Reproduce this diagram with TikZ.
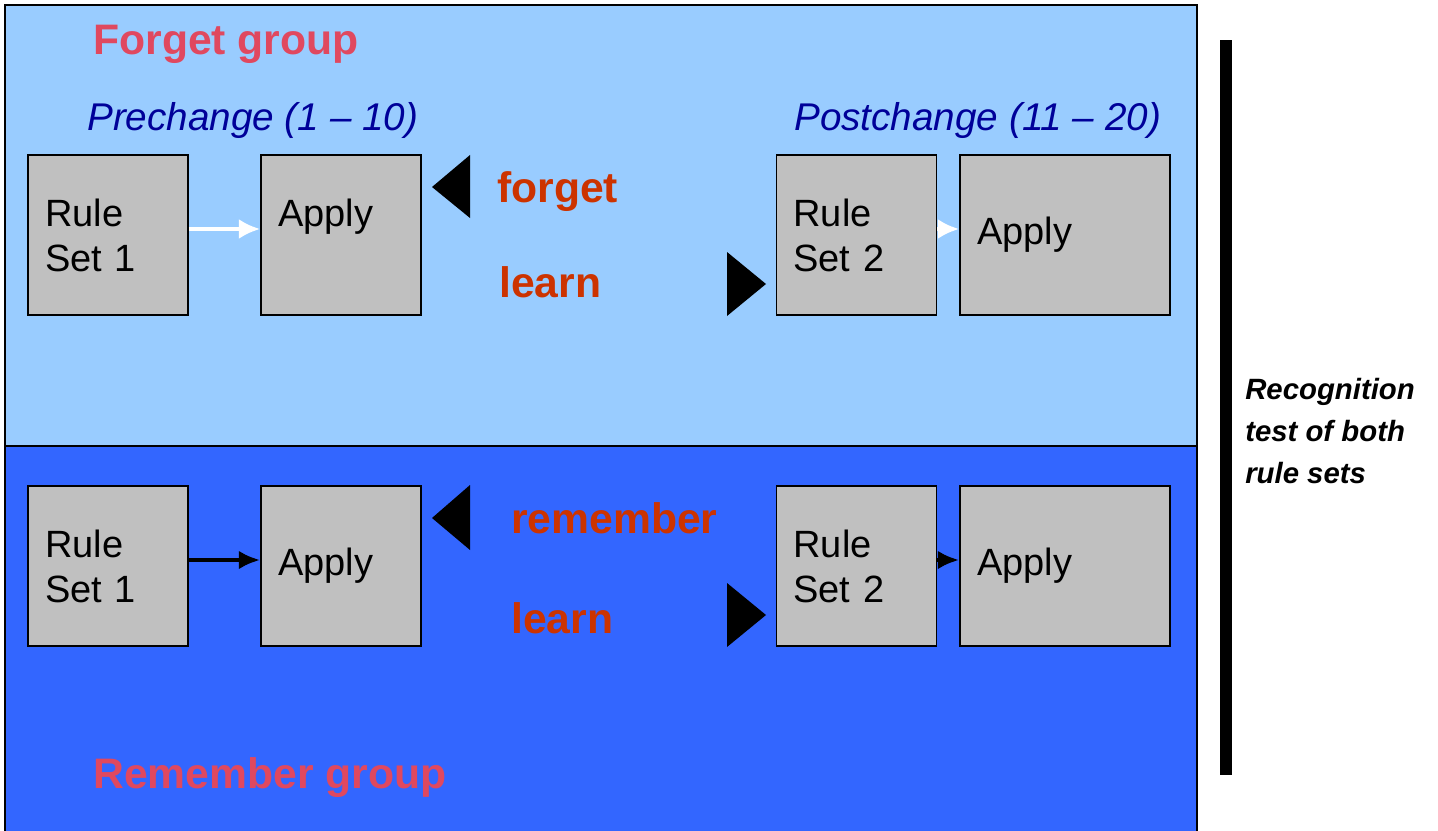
\documentclass[tikz,border=0pt]{standalone}
\usepackage{fontspec}
\setmainfont{Liberation Sans}
\usetikzlibrary{arrows.meta}
\definecolor{paleblue}{HTML}{99CCFF}
\definecolor{deepblue}{HTML}{3366FF}
\definecolor{boxgrey}{HTML}{C0C0C0}
\definecolor{grouppink}{HTML}{E0485F}
\definecolor{wordred}{HTML}{CC3300}
\definecolor{phaseblue}{HTML}{000099}
\tikzset{
  box/.style={draw=black, line width=1.2pt, fill=boxgrey, minimum height=120pt,
    inner xsep=12.75pt, inner ysep=0pt, text width=94.5pt, align=left,
    font=\fontsize{28.5}{33.8}\selectfont},
  widebox/.style={box, text width=132pt},
  grouplabel/.style={anchor=base west, text=grouppink, inner sep=0pt,
    font=\fontsize{32}{38}\selectfont\bfseries},
  phaselabel/.style={anchor=base west, text=phaseblue, inner sep=0pt,
    font=\fontsize{29}{34}\selectfont\itshape},
  wordlabel/.style={anchor=base west, text=wordred, inner sep=0pt,
    font=\fontsize{32}{38}\selectfont\bfseries},
  lightarrow/.style={draw=white, line width=3pt, -{Latex[length=16pt,width=15pt]}},
  darkarrow/.style={draw=black, line width=3.5pt, -{Latex[length=16pt,width=14pt]}}
}
\begin{document}
\begin{tikzpicture}[x=0.75pt, y=-0.75pt]
  \useasboundingbox (0,0) rectangle (1438,831);
  % the two groups
  \filldraw[fill=paleblue, draw=black, line width=1.2pt] (5,5) rectangle (1197,446);
  \filldraw[fill=deepblue, draw=black, line width=1.2pt] (5,446) rectangle (1197,835);

  \node[grouplabel] (fg) at (93,55) {Forget group};
  \node[grouplabel] (rg) at (93,788) {Remember group};
  \node[phaselabel] (pre) at (87,131) {Prechange (1 -- 10)};
  \node[phaselabel] (post) at (794,131) {Postchange (11 -- 20)};

  % forget group row
  \node[box] (rs1) at (108,235) {Rule\\Set 1};
  \node[box] (apa1) at (341,235) {Apply\\~};
  \node[box] (rs2) at (856.5,235) {Rule\\Set 2};
  \node[widebox] (apa2) at (1065,235) {Apply};

  % remember group row
  \node[box] (rs3) at (108,566) {Rule\\Set 1};
  \node[box] (apa3) at (341,566) {Apply};
  \node[box] (rs4) at (856.5,566) {Rule\\Set 2};
  \node[widebox] (apa4) at (1065,566) {Apply};

  \node[wordlabel] (fgt) at (497,203) {forget};
  \node[wordlabel] (lrn1) at (499,297) {learn};
  \node[wordlabel] (rem) at (511,533) {remember};
  \node[wordlabel] (lrn2) at (511,633) {learn};

  \fill (470,155) -- (432,187) -- (470,218) -- cycle;
  \fill (727,252) -- (766,284) -- (727,316) -- cycle;
  \fill (470,485) -- (432,518) -- (470,550) -- cycle;
  \fill (727,583) -- (766,615) -- (727,647) -- cycle;

  \draw[lightarrow] ([yshift=4.5pt]rs1.east) -- ([yshift=4.5pt]apa1.west);
  \draw[lightarrow] ([yshift=4.5pt]rs2.east) -- ([yshift=4.5pt]apa2.west);
  \draw[darkarrow] ([yshift=4.5pt]rs3.east) -- ([yshift=4.5pt]apa3.west);
  \draw[darkarrow] ([yshift=4.5pt]rs4.east) -- ([yshift=4.5pt]apa4.west);

  % recognition test
  \fill (1220,40) rectangle (1232,775);
  \node[anchor=north west, align=left, inner sep=0pt,
    font=\fontsize{22}{31.5}\selectfont\bfseries\itshape] (rec) at (1245,378)
    {Recognition\\test of both\\rule sets};
\end{tikzpicture}
\end{document}
